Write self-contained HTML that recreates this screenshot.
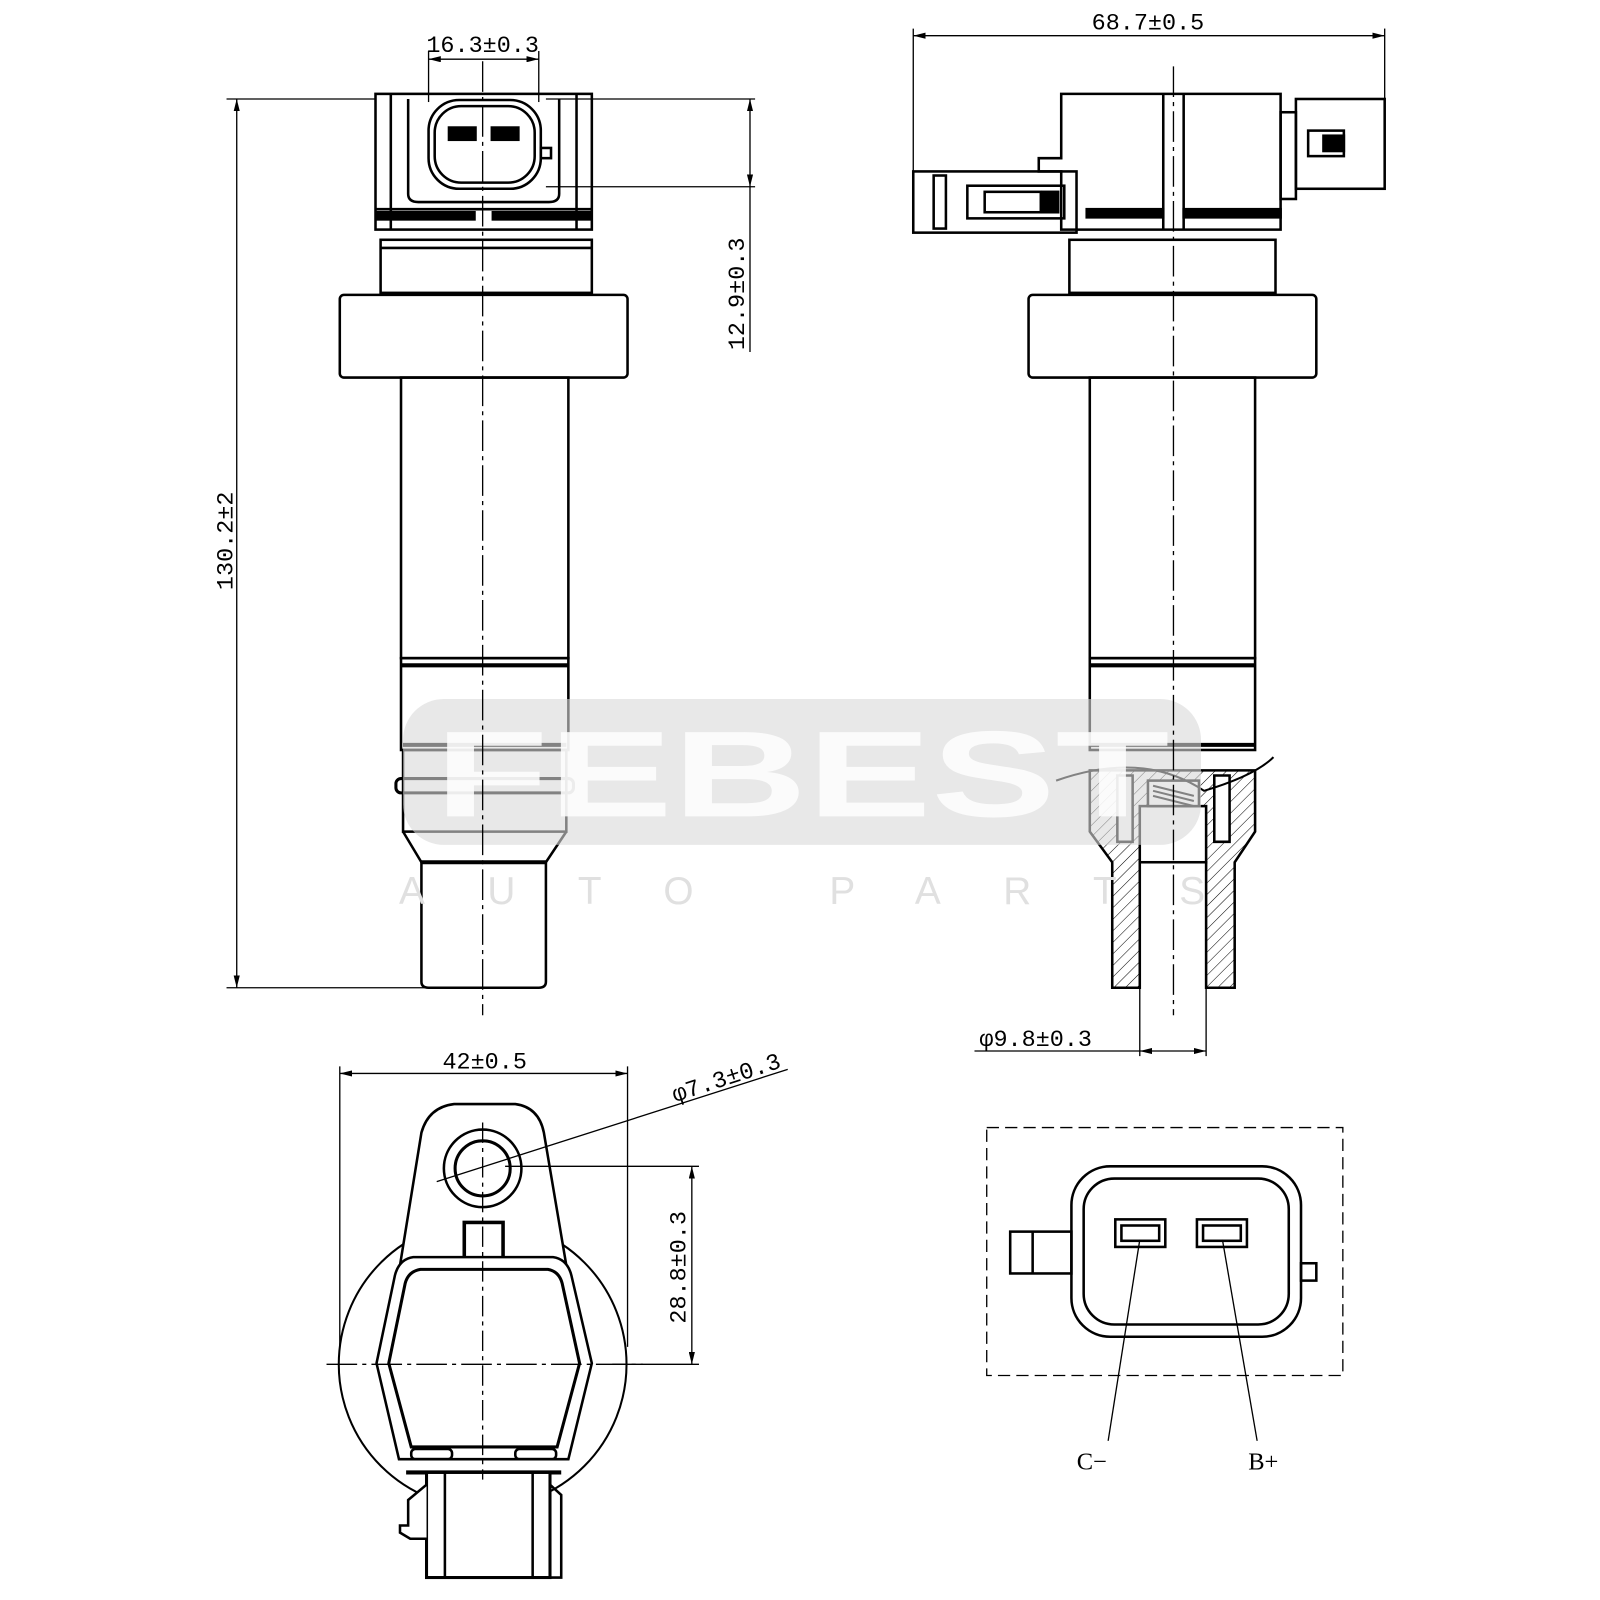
<!DOCTYPE html>
<html><head><meta charset="utf-8"><style>
html,body{margin:0;padding:0;background:#fff;}
svg{display:block;}
text{font-family:"Liberation Mono","DejaVu Sans Mono",monospace;fill:#000;}
</style></head><body>
<svg width="1600" height="1600" viewBox="0 0 1600 1600" xmlns="http://www.w3.org/2000/svg">
<defs>
<pattern id="hatch" width="8" height="8" patternUnits="userSpaceOnUse" patternTransform="rotate(45)">
<line x1="0" y1="0" x2="0" y2="8" stroke="#000" stroke-width="1"/>
</pattern>
<marker id="ar" viewBox="0 0 12 6" refX="12" refY="3" markerWidth="12" markerHeight="6" orient="auto-start-reverse" markerUnits="userSpaceOnUse">
<path d="M0 0 L12 3 L0 6 Z" fill="#000"/>
</marker>
</defs>
<g transform="scale(1.0204)">
<circle cx="473" cy="1337" r="141" fill="none" stroke="#000" stroke-width="2"/>
<g fill="none" stroke="#000" stroke-width="2.5">
<rect x="368" y="92" width="212" height="133"/>
<line x1="383" y1="92" x2="383" y2="225"/><line x1="565" y1="92" x2="565" y2="225"/>
<line x1="368" y1="205" x2="580" y2="205"/>
<rect x="370" y="208" width="95" height="7" fill="#000"/><rect x="483" y="208" width="95" height="7" fill="#000"/>
<path d="M400 97 V190 Q400 198 410 198 H538 Q548 198 548 190 V97"/>
<rect x="420" y="98" width="110" height="87" rx="30"/>
<rect x="426" y="104" width="98" height="75" rx="26"/>
<rect x="440" y="125" width="26" height="12" fill="#000"/><rect x="482" y="125" width="26" height="12" fill="#000"/>
<rect x="530" y="145" width="10" height="10"/>
<rect x="373" y="235" width="207" height="52"/>
<line x1="373" y1="243" x2="580" y2="243"/>
<rect x="333" y="289" width="282" height="81" rx="4"/>
<rect x="393" y="370" width="164" height="275"/>
<rect x="393" y="645" width="164" height="90"/>
<line x1="393" y1="652" x2="557" y2="652" stroke-width="4"/>
<line x1="395" y1="730" x2="555" y2="730" stroke-width="4"/>
<rect x="395" y="735" width="160" height="80"/>
<rect x="388" y="763" width="174" height="14" rx="5" stroke-width="3"/>
<path d="M395 815 L413 845 H535 L555 815"/>
<line x1="413" y1="845" x2="535" y2="845" stroke-width="4"/>
<path d="M413 845 V962 Q413 968 420 968 H528 Q535 968 535 962 V845"/>
<path d="M1040 92 H1255 V225 H1040 V168 H1018 V155 H1040 Z"/>
<rect x="895" y="168" width="160" height="60"/>
<rect x="915" y="172" width="12" height="52"/>
<rect x="948" y="182" width="95" height="32"/>
<rect x="965" y="188" width="55" height="20"/>
<rect x="1022" y="188" width="15" height="20" fill="#000"/>
<line x1="1140" y1="92" x2="1140" y2="225"/><line x1="1160" y1="92" x2="1160" y2="225"/>
<rect x="1065" y="205" width="75" height="8" fill="#000"/><rect x="1160" y="205" width="95" height="8" fill="#000"/>
<rect x="1255" y="110" width="15" height="85"/>
<rect x="1270" y="97" width="87" height="88"/>
<rect x="1282" y="128" width="35" height="25"/>
<rect x="1297" y="133" width="20" height="15" fill="#000"/>
<rect x="1048" y="235" width="202" height="52"/>
<rect x="1008" y="289" width="282" height="81" rx="4"/>
<rect x="1068" y="370" width="162" height="275"/>
<rect x="1068" y="645" width="162" height="90"/>
<line x1="1068" y1="652" x2="1230" y2="652" stroke-width="4"/>
<line x1="1068" y1="730" x2="1230" y2="730" stroke-width="4"/>
<path d="M1068 755 V815 L1090 845 V968 H1117 V845 H1182 V968 H1210 V845 L1230 815 V755 Z" fill="url(#hatch)"/>
<rect x="1117" y="790" width="65" height="55" fill="#fff"/>
<rect x="1125" y="765" width="50" height="25" fill="#fff"/>
<path d="M1130 770 L1170 780 M1130 775 L1170 785 M1130 780 L1170 790" stroke-width="2"/>
<path d="M1095 760 V825 H1110 V760 Z" fill="#fff"/>
<path d="M1190 760 V825 H1205 V760 Z" fill="#fff"/>
<path d="M1035 765 Q1120 735 1180 775 Q1230 760 1248 742" stroke-width="2"/>
<path d="M392 1240 L413 1110 Q420 1085 445 1082 H505 Q528 1085 533 1110 L555 1240 Z" fill="#fff"/>
<circle cx="473" cy="1145" r="38"/>
<circle cx="473" cy="1145" r="27" stroke-width="3"/>
<rect x="455" y="1198" width="38" height="35" fill="#fff" stroke-width="3.5"/>
<path d="M405 1232 H542 Q556 1234 560 1250 L580 1336 L557 1430 H391 L369 1336 L387 1250 Q391 1234 405 1232 Z" fill="#fff"/>
<path d="M412 1244 H537 Q548 1246 551 1258 L568 1336 L546 1418 H403 L381 1336 L397 1258 Q400 1246 412 1244 Z" stroke-width="3"/>
<rect x="403" y="1420" width="40" height="10" rx="4"/>
<rect x="505" y="1420" width="40" height="10" rx="4"/>
<line x1="398" y1="1443" x2="550" y2="1443" stroke-width="4"/>
<rect x="418" y="1443" width="121" height="103" fill="#fff" stroke-width="3"/>
<line x1="436" y1="1443" x2="436" y2="1546"/><line x1="522" y1="1443" x2="522" y2="1546"/>
<path d="M418 1455 L400 1470 V1495 H392 V1502 L402 1508 H418" fill="#fff"/>
<path d="M539 1455 L550 1465 V1546 H539"/>
<rect x="1050" y="1143" width="225" height="167" rx="38"/>
<rect x="1062" y="1155" width="201" height="143" rx="30"/>
<rect x="1093" y="1195" width="49" height="27"/>
<rect x="1099" y="1201" width="37" height="15"/>
<rect x="1173" y="1195" width="49" height="27"/>
<rect x="1179" y="1201" width="37" height="15"/>
<rect x="990" y="1207" width="60" height="41"/>
<line x1="1012" y1="1207" x2="1012" y2="1248"/>
<rect x="1275" y="1238" width="15" height="17"/>
</g>
<rect x="395" y="685" width="782" height="143" rx="40" fill="#d9d9d9" opacity="0.6"/>
<text x="786" y="800" text-anchor="middle" font-size="120" font-weight="bold" style="font-family:'Liberation Sans',sans-serif;fill:#fff;opacity:0.85" textLength="720" lengthAdjust="spacingAndGlyphs">FEBEST</text>
<text x="786" y="886" text-anchor="middle" font-size="38" style="font-family:'Liberation Sans',sans-serif;fill:#e0e0e0;" textLength="790" lengthAdjust="spacing">AUTO PARTS</text>
<g fill="none" stroke="#000" stroke-width="1.3">
<line x1="473" y1="60" x2="473" y2="995" stroke-dasharray="30 5 4 5"/>
<line x1="1150" y1="65" x2="1150" y2="995" stroke-dasharray="30 5 4 5"/>
<line x1="320" y1="1337" x2="630" y2="1337" stroke-dasharray="30 5 4 5"/>
<line x1="473" y1="1100" x2="473" y2="1450" stroke-dasharray="20 5 4 5"/>
<line x1="420" y1="50" x2="420" y2="100"/><line x1="528" y1="50" x2="528" y2="100"/>
<line x1="420" y1="58" x2="528" y2="58" marker-start="url(#ar)" marker-end="url(#ar)"/>
<line x1="222" y1="97" x2="368" y2="97"/><line x1="222" y1="968" x2="420" y2="968"/>
<line x1="232" y1="97" x2="232" y2="968" marker-start="url(#ar)" marker-end="url(#ar)"/>
<line x1="535" y1="97" x2="740" y2="97"/><line x1="535" y1="183" x2="740" y2="183"/>
<line x1="735" y1="97" x2="735" y2="183" marker-start="url(#ar)" marker-end="url(#ar)"/>
<line x1="735" y1="183" x2="735" y2="345"/>
<line x1="895" y1="28" x2="895" y2="168"/><line x1="1357" y1="28" x2="1357" y2="97"/>
<line x1="895" y1="35" x2="1357" y2="35" marker-start="url(#ar)" marker-end="url(#ar)"/>
<line x1="1117" y1="968" x2="1117" y2="1035"/><line x1="1182" y1="968" x2="1182" y2="1035"/>
<line x1="955" y1="1030" x2="1117" y2="1030"/>
<line x1="1117" y1="1030" x2="1182" y2="1030" marker-start="url(#ar)" marker-end="url(#ar)"/>
<line x1="333" y1="1045" x2="333" y2="1320"/><line x1="615" y1="1045" x2="615" y2="1320"/>
<line x1="333" y1="1052" x2="615" y2="1052" marker-start="url(#ar)" marker-end="url(#ar)"/>
<line x1="428" y1="1158" x2="772" y2="1048"/>
<line x1="495" y1="1143" x2="685" y2="1143"/><line x1="600" y1="1337" x2="685" y2="1337"/>
<line x1="678" y1="1143" x2="678" y2="1337" marker-start="url(#ar)" marker-end="url(#ar)"/>
<rect x="967" y="1105" width="349" height="243" stroke-dasharray="12 6"/>
<line x1="1117" y1="1215" x2="1086" y2="1412"/>
<line x1="1198" y1="1215" x2="1232" y2="1412"/>
</g>
<g font-size="23">
<text x="473" y="51" text-anchor="middle">16.3±0.3</text>
<text x="1125" y="29" text-anchor="middle">68.7±0.5</text>
<text transform="translate(228 530) rotate(-90)" text-anchor="middle">130.2±2</text>
<text transform="translate(729 288) rotate(-90)" text-anchor="middle">12.9±0.3</text>
<text x="1015" y="1025" text-anchor="middle">φ9.8±0.3</text>
<text x="475" y="1047" text-anchor="middle">42±0.5</text>
<text transform="translate(714 1063) rotate(-18)" text-anchor="middle">φ7.3±0.3</text>
<text transform="translate(672 1242) rotate(-90)" text-anchor="middle">28.8±0.3</text>
<text x="1070" y="1440" text-anchor="middle" style="font-family:'Liberation Serif',serif;" font-size="24">C−</text>
<text x="1238" y="1440" text-anchor="middle" style="font-family:'Liberation Serif',serif;" font-size="24">B+</text>
</g>
</g>
</svg>
</body></html>
